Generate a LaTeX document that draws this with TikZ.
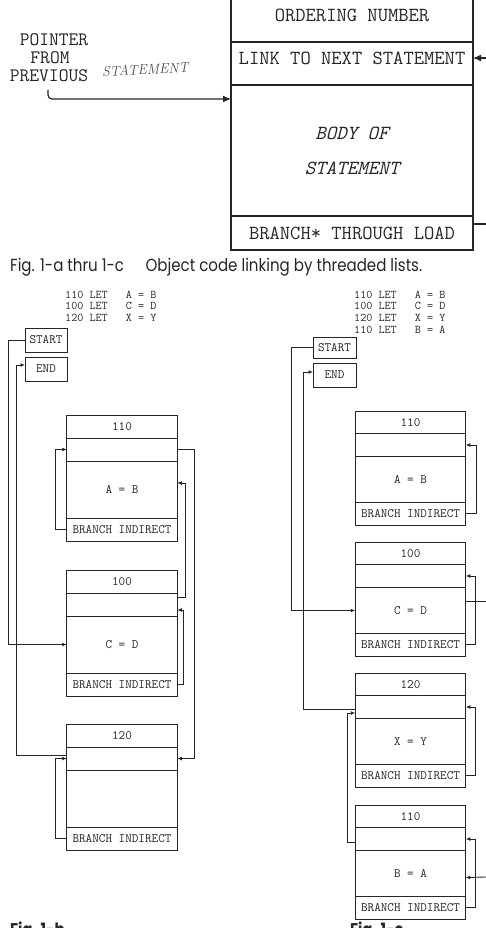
\documentclass[tikz,border=0pt]{standalone}
\usepackage{fontspec}
\newfontfamily\capfont[FakeStretch=0.86]{Poppins}
\usetikzlibrary{arrows.meta, positioning}

\begin{document}
\begin{tikzpicture}[x=1pt, y=-1pt,
  every node/.style={text=black!85},
  ink/.style={draw=black!85, line width=0.9pt},
  arr/.style={ink, -{Latex[length=4.5pt, width=4pt]}},
  bigarr/.style={draw=black!85, line width=1.2pt, -{Latex[length=8pt, width=7pt]}},
  toprow/.style={draw=black!85, line width=1.3pt, minimum width=242, inner sep=0pt, outer sep=0pt,
    font=\fontsize{20}{24}\selectfont\ttfamily},
  cell/.style={ink, inner sep=0pt, outer sep=0pt, font=\fontsize{12.8}{14}\selectfont\ttfamily},
  code/.style={align=left, inner sep=0pt, anchor=north west, font=\fontsize{11.8}{11.7}\selectfont\ttfamily},
  caption/.style={inner sep=0pt, font=\capfont\fontsize{17.5}{20}\selectfont}]

  \useasboundingbox (0,0) rectangle (485,928);

  % Statement record (Fig. 1-a)
  \node[toprow, minimum height=54] (tnum) at (352,15) {ORDERING NUMBER};
  \node[toprow, minimum height=43, anchor=north] (tlink) at (tnum.south) {};
  \node[inner sep=0pt, font=\fontsize{20}{24}\selectfont\ttfamily] (tlinktxt) at (352,58) {LINK TO NEXT STATEMENT};
  \node[toprow, minimum height=131, anchor=north, align=center,
    font=\fontsize{20}{35}\selectfont\ttfamily\itshape] (tbody) at (tlink.south) {BODY OF\\STATEMENT};
  \node[toprow, minimum height=34, anchor=north] (tbrn) at (tbody.south) {BRANCH* THROUGH LOAD};

  % Pointer from previous statement
  \node[inner sep=0pt, font=\fontsize{19}{19}\selectfont\ttfamily] (ptr1) at (54,40) {POINTER};
  \node[inner sep=0pt, font=\fontsize{19}{19}\selectfont\ttfamily] (ptr2) at (50,58) {FROM};
  \node[inner sep=0pt, font=\fontsize{19}{19}\selectfont\ttfamily] (ptr3) at (49,76) {PREVIOUS};
  \node[inner sep=0pt, anchor=west, rotate=3, text=black!70, font=\fontsize{14}{14}\selectfont\itshape] (hand) at (102,72) {STATEMENT};
  \coordinate (ptail) at (48,90);
  \draw[bigarr, rounded corners=4pt] (ptail) |- ([yshift=51.5pt]tbody.west);

  % links leaving the picture
  \coordinate (linkin) at (486,58);
  \coordinate (brnout) at (486,224);
  \draw[bigarr] (linkin) -- ([yshift=5.5pt]tlink.east);
  \draw[ink, line width=1.2pt] ([yshift=9pt]tbrn.east) -- (brnout);

  \node[caption, anchor=base west] (cap) at (10,271) {Fig. 1-a thru 1-c\quad\ Object code linking by threaded lists.};

  % Source lines
  \node[code] (codeL) at (65,290.5) {110 LET\ \ \ A = B\\100 LET\ \ \ C = D\\120 LET\ \ \ X = Y};
  \node[code] (codeR) at (354,290.5) {110 LET\ \ \ A = B\\100 LET\ \ \ C = D\\120 LET\ \ \ X = Y\\110 LET\ \ \ B = A};

  % START / END
  \node[cell, minimum width=42, minimum height=24] (stL) at (46,340) {START};
  \node[cell, minimum width=42, minimum height=24] (enL) at (46,369) {END};
  \node[cell, minimum width=43, minimum height=21] (stR) at (334.5,347.5) {START};
  \node[cell, minimum width=43, minimum height=24] (enR) at (334.5,375) {END};

  % Statement records
  \foreach \n/\x/\y/\num/\txt/\hn/\hb in {bA/122/415/110/{A = B}/23/57, bC/122/570/100/{C = D}/23/57,
      bX/122/724/120/{}/23/57, cA/410.5/411/110/{A = B}/22.5/46, cC/410.5/542/100/{C = D}/22.5/46,
      cX/410.5/673/120/{X = Y}/22.5/46, cB/410.5/805/110/{B = A}/22.5/46} {
    \node[cell, minimum width=110.5, minimum height=\hn, anchor=north] (\n-no) at (\x,\y) {\num};
    \node[cell, minimum width=110.5, minimum height=23, anchor=north] (\n-lk) at (\n-no.south) {};
    \node[cell, minimum width=110.5, minimum height=\hb, anchor=north] (\n-bd) at (\n-lk.south) {\txt};
    \node[cell, minimum width=110.5, minimum height=\hn, anchor=north] (\n-br) at (\n-bd.south) {BRANCH INDIRECT};
  }

  % Fig. 1-b threads
  \draw[arr] (stL.west) -- ++(-17,0) |- (bC-bd.west);
  \draw[arr] ([yshift=3.5pt]bX-lk.west) -- ++(-50,0) |- ([yshift=4pt]enL.west);
  \draw[arr] (bA-br.west) -- ++(-11,0) |- (bA-lk.west);
  \draw[arr] (bX-br.west) -- ++(-11,0) |- (bX-lk.west);
  \draw[arr] (bA-lk.east) -- ++(17,0) |- (bX-lk.east);
  \draw[arr] ([yshift=7.5pt]bC-lk.east) -- ++(8,0) |- ([yshift=6.5pt]bA-bd.east);
  \draw[arr] (bC-br.east) -- ++(6,0) |- ([yshift=-5.5pt]bC-lk.east);

  % Fig. 1-c threads
  \draw[arr] (stR.west) -- ++(-22,0) |- (cC-bd.west);
  \draw[arr] ([yshift=-2pt]cX-lk.west) -- ++(-52,0) |- ([yshift=3pt]enR.west);
  \draw[arr] ([yshift=-3pt]cB-lk.west) -- ++(-8,0) |- ([yshift=-6pt]cX-lk.west);
  \draw[arr] (cA-br.east) -- ++(11,0) |- (cA-lk.east);
  \draw[arr] (cC-br.east) -- ++(10,0) |- (cC-lk.east);
  \draw[arr] (cX-br.east) -- ++(10,0) |- (cX-lk.east);
  \draw[arr] (cB-br.east) -- ++(10,0) |- (cB-lk.east);
  \coordinate (cCout) at (486,601);
  \coordinate (cBin) at (486,877);
  \draw[ink] ([yshift=9.5pt]cC-bd.east) -- (cCout);
  \draw[arr] (cBin) -- ([yshift=-4pt]cB-bd.east);

  \node[caption, anchor=north west, font=\capfont\bfseries\fontsize{17}{20}\selectfont] (figb) at (10,922) {Fig. 1-b};
  \node[caption, anchor=north west, font=\capfont\bfseries\fontsize{17}{20}\selectfont] (figc) at (350,922) {Fig. 1-c};
\end{tikzpicture}
\end{document}
